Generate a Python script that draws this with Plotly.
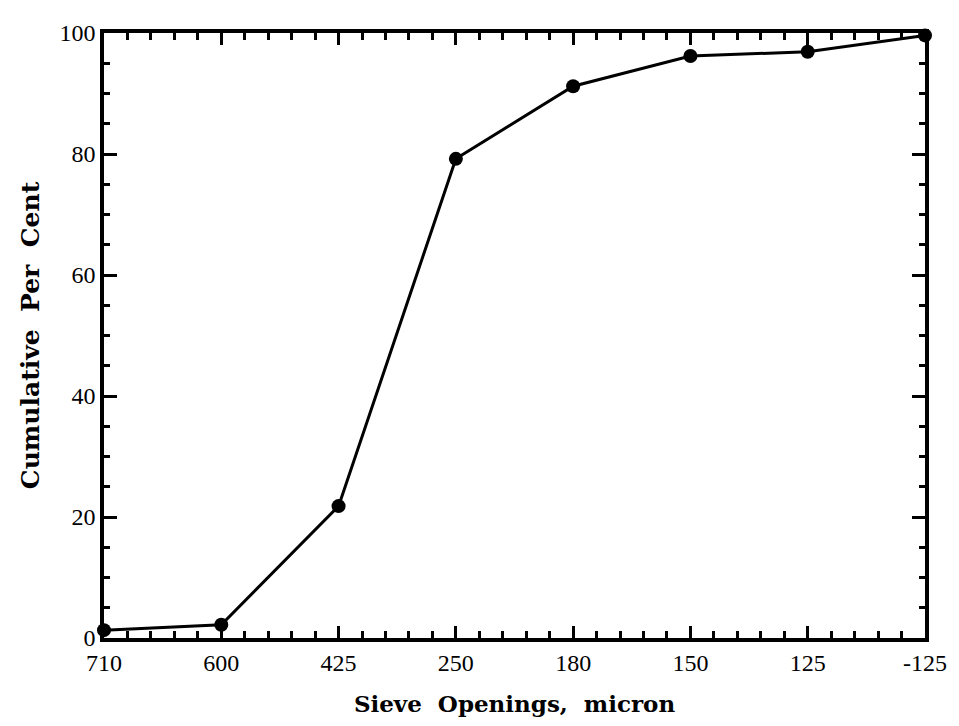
import plotly.graph_objects as go

sieve_labels = ["710", "600", "425", "250", "180", "150", "125", "-125"]
cumulative_pct = [1.3, 2.2, 21.8, 79.2, 91.2, 96.2, 96.9, 99.6]
y_ticks = [0, 20, 40, 60, 80, 100]

x_pos = list(range(len(sieve_labels)))

fig = go.Figure()
fig.add_trace(go.Scatter(
    x=x_pos, y=cumulative_pct, mode="lines+markers",
    line=dict(color="black", width=3),
    marker=dict(color="black", size=14),
    cliponaxis=False, showlegend=False,
))

fig.update_layout(
    width=951, height=718,
    margin=dict(l=96, r=23, t=21, b=86),
    paper_bgcolor="white", plot_bgcolor="white",
    font=dict(family="Liberation Serif", size=24, color="black"),
    xaxis=dict(
        range=[0, len(sieve_labels) - 1],
        tickmode="array", tickvals=x_pos, ticktext=sieve_labels,
        ticks="inside", ticklen=12, tickwidth=2.5, tickcolor="black",
        minor=dict(dtick=0.2, tick0=0, ticks="inside", ticklen=7, tickwidth=2.5, tickcolor="black"),
        showline=True, linewidth=3.5, linecolor="black", mirror="ticks",
        showgrid=False, zeroline=False,
        tickfont=dict(size=24, family="Liberation Serif"),
        title=dict(text="<b>Sieve  Openings,  micron</b>", font=dict(size=23, family="DejaVu Serif"), standoff=22),
    ),
    yaxis=dict(
        range=[0, 100],
        tickmode="array", tickvals=y_ticks,
        ticks="inside", ticklen=13, tickwidth=2.5, tickcolor="black",
        minor=dict(dtick=5, tick0=0, ticks="inside", ticklen=6, tickwidth=2.5, tickcolor="black"),
        showline=True, linewidth=3.5, linecolor="black", mirror="ticks",
        showgrid=False, zeroline=False,
        tickfont=dict(size=24, family="Liberation Serif"),
        title=dict(text="<b>Cumulative  Per  Cent</b>", font=dict(size=25, family="DejaVu Serif"), standoff=14),
    ),
)

fig.write_html("out.html")
